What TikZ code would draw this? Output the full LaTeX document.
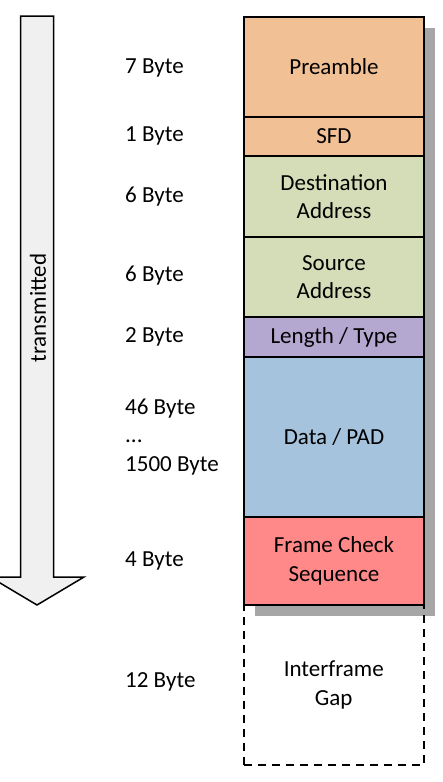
\documentclass[tikz,border=0pt]{standalone}
\usepackage{fontspec}
\setmainfont{Carlito}
\begin{document}
\begin{tikzpicture}[x=1pt,y=-1pt,
  every node/.style={font=\fontsize{23}{28.5}\selectfont, inner sep=0pt},
  field/.style={draw=black, line width=2pt, minimum width=180pt, anchor=north west, align=center},
  lbl/.style={anchor=west, align=left},
]
\definecolor{cOrange}{HTML}{F2C095}
\definecolor{cGreen}{HTML}{D5DDB8}
\definecolor{cPurple}{HTML}{B4A7D0}
\definecolor{cBlue}{HTML}{A6C3DD}
\definecolor{cRed}{HTML}{FF8888}
\definecolor{cShadow}{HTML}{A6A6A6}
\definecolor{cArrow}{HTML}{F0F0F0}
\useasboundingbox (0,0) rectangle (442,782);
\clip (0,0) rectangle (442,782);
% arrow
\draw[fill=cArrow, line width=1.5pt, line join=miter]
  (20.5,16) -- (53.5,16) -- (53.5,577) -- (84,577) -- (37,605) -- (-10,577) -- (20.5,577) -- cycle;
\node[rotate=90] (tx) at (38,308) {transmitted};
% shadow
\fill[cShadow] (255,28) rectangle (435,616);
% fields
\node[field, fill=cOrange, minimum height=100pt] (pre) at (243,16) {Preamble};
\node[field, fill=cOrange, minimum height=39pt] (sfd) at (243,116) {SFD};
\node[field, fill=cGreen, minimum height=81pt] (dst) at (243,155) {Destination\\Address};
\node[field, fill=cGreen, minimum height=80pt] (src) at (243,236) {Source\\Address};
\node[field, fill=cPurple, minimum height=40pt] (len) at (243,316) {Length / Type};
\node[field, fill=cBlue, minimum height=160pt] (dat) at (243,356) {Data / PAD};
\node[field, fill=cRed, minimum height=88pt] (fcs) at (243,516) {Frame Check\\Sequence};
\node[field, draw=black, line width=1.5pt, dash pattern=on 8pt off 6pt, minimum height=160pt] (ifg) at (243,604) {Interframe\\Gap};
% labels
\node[lbl] (l1) at (125,68) {7 Byte};
\node[lbl] (l2) at (125,136) {1 Byte};
\node[lbl] (l3) at (125,197) {6 Byte};
\node[lbl] (l4) at (125,276) {6 Byte};
\node[lbl] (l5) at (125,337) {2 Byte};
\node[lbl] (l6) at (125,437) {46 Byte\\...\\1500 Byte};
\node[lbl] (l7) at (125,561) {4 Byte};
\node[lbl] (l8) at (125,682) {12 Byte};
\end{tikzpicture}
\end{document}
